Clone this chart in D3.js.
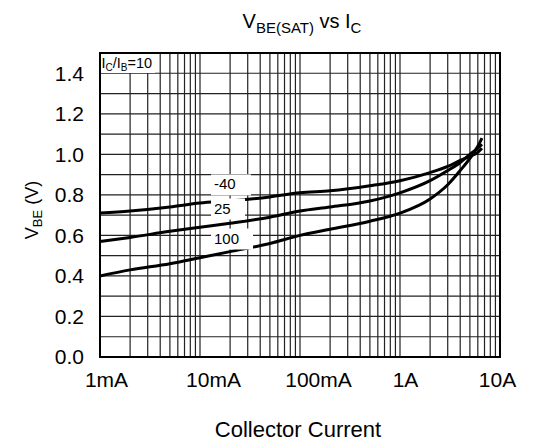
<!DOCTYPE html>
<html>
<head>
<meta charset="utf-8">
<script src="https://cdn.jsdelivr.net/npm/d3@7"></script>
<style>
  body { margin: 0; background: #fff; }
  text { font-family: Arial, "Liberation Sans", sans-serif; fill: #000; }
</style>
</head>
<body>
<svg width="555" height="443"></svg>
<script>
// Collector current (A) and V_BE(sat) (V)
const currents = [0.001, 0.002, 0.005, 0.01, 0.02, 0.05, 0.1, 0.2, 0.5, 1, 2, 3, 4, 5, 6, 6.6];
const vMinus40 = [0.71, 0.72, 0.74, 0.76, 0.77, 0.79, 0.81, 0.82, 0.845, 0.87, 0.91, 0.94, 0.97, 0.99, 1.01, 1.03];
const v25      = [0.57, 0.59, 0.62, 0.64, 0.66, 0.69, 0.72, 0.74, 0.77, 0.81, 0.87, 0.92, 0.96, 1.00, 1.03, 1.05];
const v100     = [0.40, 0.43, 0.46, 0.49, 0.52, 0.56, 0.60, 0.63, 0.67, 0.71, 0.78, 0.85, 0.92, 0.98, 1.04, 1.08];

const seriesNames = ["-40", "25", "100"];
const xTicks = [0.001, 0.01, 0.1, 1, 10];
const xTickLabels = ["1mA", "10mA", "100mA", "1A", "10A"];
const yTicks = [0, 0.2, 0.4, 0.6, 0.8, 1.0, 1.2, 1.4];

const margin = {top: 53, right: 55, bottom: 86, left: 100},
      width = 555 - margin.left - margin.right,
      height = 443 - margin.top - margin.bottom;

const svg = d3.select("svg")
  .append("g")
    .attr("transform", `translate(${margin.left},${margin.top})`);

const x = d3.scaleLog().domain([0.001, 10]).range([0, width]);
const y = d3.scaleLinear().domain([0, 1.5]).range([height, 0]);

// grid: minor verticals at 1..9 of every decade
const vGrid = [];
[0.001, 0.01, 0.1, 1].forEach(dec => {
  for (let k = 1; k <= 9; k++) vGrid.push(dec * k);
});
svg.selectAll(".vgrid").data(vGrid).enter().append("line")
    .attr("x1", d => x(d)).attr("x2", d => x(d))
    .attr("y1", 0).attr("y2", height)
    .attr("stroke", "#222").attr("stroke-width", 1.2);

const hGrid = d3.range(1, 15).map(i => i / 10);
svg.selectAll(".hgrid").data(hGrid).enter().append("line")
    .attr("x1", 0).attr("x2", width)
    .attr("y1", d => y(d)).attr("y2", d => y(d))
    .attr("stroke", "#222").attr("stroke-width", 1.2);

// frame
svg.append("rect")
    .attr("width", width).attr("height", height)
    .attr("fill", "none").attr("stroke", "#000").attr("stroke-width", 2);

// curves
const line = d3.line()
    .x((d, i) => x(currents[i]))
    .y(d => y(d))
    .curve(d3.curveMonotoneX);

[vMinus40, v25, v100].forEach(vals => {
  svg.append("path")
      .attr("d", line(vals))
      .attr("fill", "none")
      .attr("stroke", "#000")
      .attr("stroke-width", 3);
});

// series labels with white boxes (baseline voltages for placement)
const labelV = [0.827, 0.708, 0.56];
const labelW = [40, 34, 42];
seriesNames.forEach((name, k) => {
  const lx = x(0.0135), ly = y(labelV[k]);
  svg.append("rect")
      .attr("x", lx - 2).attr("y", ly - 15)
      .attr("width", labelW[k]).attr("height", 21)
      .attr("fill", "#fff");
  svg.append("text")
      .attr("x", lx + 1).attr("y", ly)
      .style("font-size", "15px")
      .text(name);
});

// condition label
const cond = svg.append("g");
cond.append("rect").attr("x", 1).attr("y", 1).attr("width", 54).attr("height", 19).attr("fill", "#fff");
const ct = cond.append("text").attr("x", 1.5).attr("y", 15).style("font-size", "14.5px");
ct.append("tspan").text("I");
ct.append("tspan").attr("dy", 3).style("font-size", "10px").text("C");
ct.append("tspan").attr("dy", -3).text("/I");
ct.append("tspan").attr("dy", 3).style("font-size", "10px").text("B");
ct.append("tspan").attr("dy", -3).text("=10");

// axes
const xShift = [6, 13, 18, 5, -3];
const xAxis = svg.append("g")
    .attr("transform", `translate(0,${height})`)
    .call(d3.axisBottom(x).tickValues(xTicks).tickSize(0).tickPadding(15)
      .tickFormat((d, i) => xTickLabels[i]));
xAxis.select(".domain").remove();
xAxis.selectAll("text")
    .attr("dx", (d, i) => xShift[i])
    .style("font-size", "21px");

const yAxis = svg.append("g")
    .call(d3.axisLeft(y).tickValues(yTicks).tickSize(0).tickPadding(16)
      .tickFormat(d3.format(".1f")));
yAxis.select(".domain").remove();
yAxis.selectAll("text").style("font-size", "21px");

// title
const title = d3.select("svg").append("text")
    .attr("x", 302).attr("y", 28)
    .attr("text-anchor", "middle")
    .style("font-size", "20px");
title.append("tspan").text("V");
title.append("tspan").attr("dy", 5).style("font-size", "15px").text("BE(SAT)");
title.append("tspan").attr("dy", -5).text(" vs I");
title.append("tspan").attr("dy", 5).style("font-size", "15px").text("C");

// y label
const yl = d3.select("svg").append("text")
    .attr("transform", "translate(38,210) rotate(-90)")
    .attr("text-anchor", "middle")
    .style("font-size", "18px");
yl.append("tspan").text("V");
yl.append("tspan").attr("dy", 4).style("font-size", "13px").text("BE");
yl.append("tspan").attr("dy", -4).text(" (V)");

// x label
d3.select("svg").append("text")
    .attr("x", 298).attr("y", 437)
    .attr("text-anchor", "middle")
    .style("font-size", "22px")
    .text("Collector Current");
</script>
</body>
</html>
